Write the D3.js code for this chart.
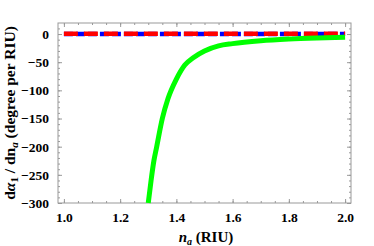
<!DOCTYPE html>
<html>
<head>
<meta charset="utf-8">
<script src="https://cdn.jsdelivr.net/npm/d3@7"></script>
<style>
  body { margin: 0; background: #fff; }
  svg text { font-family: "Liberation Serif", "Times New Roman", "DejaVu Serif", serif !important; font-weight: bold; }
</style>
</head>
<body>
<script>
// data
var greenN = [1.30, 1.31, 1.32, 1.33, 1.35, 1.37, 1.40, 1.43, 1.46, 1.50, 1.55, 1.60, 1.70, 1.80, 1.90, 2.00];
var greenV = [-300, -260, -225, -200, -150, -115, -80, -55, -42, -30, -21, -17, -12, -9, -7, -5.5];
var flatN = [1.0, 2.0];
var blueV = [0, 0];
var redV = [0.5, 0.5];
var xTicks = [1.0, 1.2, 1.4, 1.6, 1.8, 2.0];
var yTicks = [0, -50, -100, -150, -200, -250, -300];

var width = 374, height = 246;
var margin = {top: 23, right: 23, bottom: 43, left: 58};
var serif = "'Liberation Serif', 'Times New Roman', serif";

var svg = d3.select("body").append("svg")
  .attr("width", width)
  .attr("height", height);

var x = d3.scaleLinear().domain([0.979, 2.021]).range([margin.left, width - margin.right]);
var y = d3.scaleLinear().domain([-300, 19.6]).range([height - margin.bottom, margin.top]);

var frameColor = "#999";

// minor + major ticks on all sides, pointing inward
function tickLayer(axis, transform) {
  var g = svg.append("g").attr("transform", transform).call(axis);
  g.select(".domain").remove();
  g.selectAll("line").attr("stroke", frameColor);
  g.attr("font-family", serif);
  return g;
}
var xMinor = d3.range(1.0, 2.0001, 0.05);
var yMinor = d3.range(-300, 10.001, 10);
var bottomY = height - margin.bottom, topY = margin.top;
var leftX = margin.left, rightX = width - margin.right;

tickLayer(d3.axisBottom(x).tickValues(xMinor).tickSize(-2).tickFormat(""), "translate(0," + bottomY + ")");
tickLayer(d3.axisTop(x).tickValues(xMinor).tickSize(-2).tickFormat(""), "translate(0," + topY + ")");
tickLayer(d3.axisLeft(y).tickValues(yMinor).tickSize(-2).tickFormat(""), "translate(" + leftX + ",0)");
tickLayer(d3.axisRight(y).tickValues(yMinor).tickSize(-2).tickFormat(""), "translate(" + rightX + ",0)");

tickLayer(d3.axisBottom(x).tickValues(xTicks).tickSize(-4).tickPadding(9).tickFormat(d3.format(".1f")), "translate(0," + bottomY + ")");
tickLayer(d3.axisTop(x).tickValues(xTicks).tickSize(-4).tickFormat(""), "translate(0," + topY + ")");
tickLayer(d3.axisLeft(y).tickValues(yTicks).tickSize(-4).tickPadding(9).tickFormat(d => d < 0 ? "\u2212" + (-d) : d), "translate(" + leftX + ",0)");
tickLayer(d3.axisRight(y).tickValues(yTicks).tickSize(-4).tickFormat(""), "translate(" + rightX + ",0)");

svg.selectAll(".tick text").attr("font-size", 13.5).attr("fill", "#000")
  .attr("font-family", serif).attr("font-weight", "bold");

// frame
svg.append("rect")
  .attr("x", leftX).attr("y", topY)
  .attr("width", rightX - leftX).attr("height", bottomY - topY)
  .attr("fill", "none").attr("stroke", frameColor).attr("stroke-width", 1);

var line = d3.line().x(d => x(d[0])).y(d => y(d[1]));
var lineCurve = d3.line().x(d => x(d[0])).y(d => y(d[1])).curve(d3.curveMonotoneX);

svg.append("path")
  .datum(flatN.map((n, i) => [n, blueV[i]]))
  .attr("d", line)
  .attr("fill", "none").attr("stroke", "#0000ff").attr("stroke-width", 4.5)
  .attr("stroke-dasharray", "9,3");

svg.append("path")
  .datum(flatN.map((n, i) => [n, redV[i]]))
  .attr("d", line)
  .attr("fill", "none").attr("stroke", "#ff0000").attr("stroke-width", 4.5)
  .attr("stroke-dasharray", "14,6");

svg.append("path")
  .datum(greenN.map((n, i) => [n, greenV[i]]))
  .attr("d", lineCurve)
  .attr("fill", "none").attr("stroke", "#00ff00").attr("stroke-width", 5);

// axis labels
var xl = svg.append("text")
  .attr("x", 206).attr("y", 242)
  .attr("text-anchor", "middle").attr("font-size", 15)
  .attr("font-family", serif).attr("font-weight", "bold");
xl.append("tspan").attr("font-style", "italic").text("n");
xl.append("tspan").attr("font-size", 10).attr("font-style", "italic").attr("dy", 3).text("a");
xl.append("tspan").attr("dy", -3).text(" (RIU)");

var ylab = svg.append("text")
  .attr("transform", "translate(15," + ((topY + bottomY) / 2) + ") rotate(-90)")
  .attr("text-anchor", "middle").attr("font-size", 15.5)
  .attr("font-family", serif).attr("font-weight", "bold");
ylab.append("tspan").text("d");
ylab.append("tspan").attr("font-style", "italic").text("\u03b1");
ylab.append("tspan").attr("font-size", 11).attr("dy", 3).text("1");
ylab.append("tspan").attr("dy", -3).text(" / dn");
ylab.append("tspan").attr("font-size", 11).attr("font-style", "italic").attr("dy", 3).text("a");
ylab.append("tspan").attr("dy", -3).text(" (degree per RIU)");
</script>
</body>
</html>
